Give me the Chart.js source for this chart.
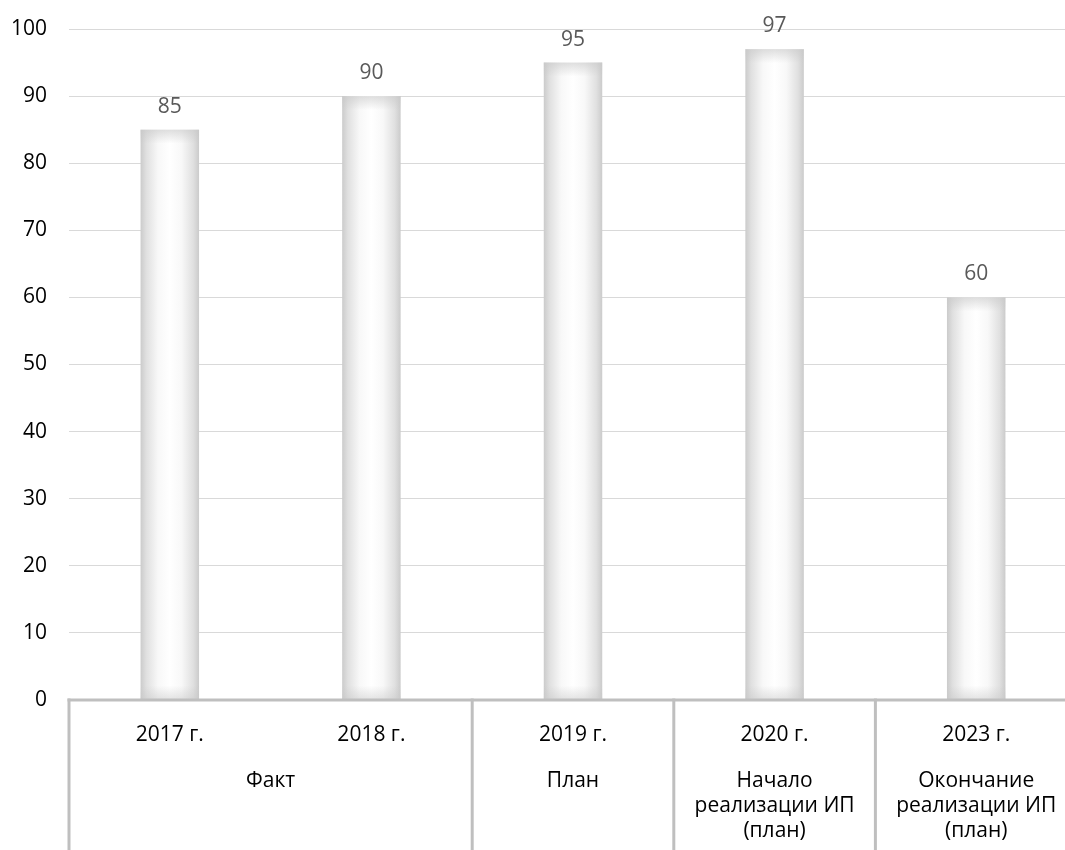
<!DOCTYPE html>
<html>
<head>
<meta charset="utf-8">
<script src="https://cdn.jsdelivr.net/npm/chart.js@4.4.1/dist/chart.umd.min.js"></script>
<style>
  html, body { margin: 0; padding: 0; background: #fff; overflow: hidden; }
  #wrap { width: 1077px; height: 850px; }
</style>
</head>
<body>
<div id="wrap"><canvas id="c"></canvas></div>
<script>
// Values per year
const years = ['2017 г.', '2018 г.', '2019 г.', '2020 г.', '2023 г.'];
const values = [85, 90, 95, 97, 60];
// Outer grouping of the category axis: label lines and how many years each spans
const groupLabels = [['Факт'], ['План'], ['Начало', 'реализации ИП', '(план)'], ['Окончание', 'реализации ИП', '(план)']];
const groupSpans = [2, 1, 1, 1];
const yTicks = [0, 10, 20, 30, 40, 50, 60, 70, 80, 90, 100];

const FONT = "'Open Sans', 'DejaVu Sans', sans-serif";
const FSIZE = 21;
const LINE = '#bfbfbf';
const BAR_PCT = 0.29;

// Horizontal grey-white-grey fill, placed from the category scale
function barFill(ctx) {
  const chart = ctx.chart;
  const xs = chart.scales && chart.scales.x;
  if (!xs || ctx.dataIndex === undefined || !isFinite(xs.getPixelForValue(0))) return '#f0f0f0';
  const cx = xs.getPixelForValue(ctx.dataIndex);
  const w = (xs.getPixelForValue(1) - xs.getPixelForValue(0)) * BAR_PCT;
  const g = chart.ctx.createLinearGradient(cx - w / 2, 0, cx + w / 2, 0);
  g.addColorStop(0, '#cbcbcb');
  g.addColorStop(0.1, '#e0e0e0');
  g.addColorStop(0.3, '#f8f8f8');
  g.addColorStop(0.5, '#ffffff');
  g.addColorStop(0.7, '#f8f8f8');
  g.addColorStop(0.9, '#e0e0e0');
  g.addColorStop(1, '#cbcbcb');
  return g;
}

// Soft shading along the top and bottom of each bar
const barShade = {
  id: 'barShade',
  afterDatasetsDraw(chart) {
    const c = chart.ctx;
    chart.getDatasetMeta(0).data.forEach(bar => {
      const l = bar.x - bar.width / 2, w = bar.width;
      const top = bar.y, bot = bar.base;
      const h = 14;
      c.save();
      let g = c.createLinearGradient(0, top, 0, top + h);
      g.addColorStop(0, 'rgba(200,200,200,0.6)');
      g.addColorStop(1, 'rgba(200,200,200,0)');
      c.fillStyle = g;
      c.fillRect(l, top, w, h);
      g = c.createLinearGradient(0, bot - h, 0, bot);
      g.addColorStop(0, 'rgba(200,200,200,0)');
      g.addColorStop(1, 'rgba(200,200,200,0.5)');
      c.fillStyle = g;
      c.fillRect(l, bot - h, w, h);
      c.restore();
    });
  }
};

// Value labels above bars
const valueLabels = {
  id: 'valueLabels',
  afterDatasetsDraw(chart) {
    const c = chart.ctx;
    c.save();
    c.font = FSIZE + 'px ' + FONT;
    c.fillStyle = '#595959';
    c.textAlign = 'center';
    c.textBaseline = 'middle';
    chart.getDatasetMeta(0).data.forEach((bar, i) => {
      c.fillText(String(values[i]), bar.x, bar.y - 23);
    });
    c.restore();
  }
};

// Two-level category axis with dividers
const groupAxis = {
  id: 'groupAxis',
  afterDraw(chart) {
    const c = chart.ctx;
    const x = chart.scales.x;
    const area = chart.chartArea;
    const y0 = chart.scales.y.getPixelForValue(0);
    const half = (x.getPixelForValue(1) - x.getPixelForValue(0)) / 2;
    const bottom = chart.height;
    c.save();
    c.strokeStyle = LINE;
    c.lineWidth = 3;
    c.beginPath();
    c.moveTo(area.left - 1.5, y0);
    c.lineTo(area.right, y0);
    c.stroke();

    c.font = FSIZE + 'px ' + FONT;
    c.fillStyle = '#000';
    c.textAlign = 'center';
    c.textBaseline = 'middle';
    years.forEach((lab, i) => c.fillText(lab, x.getPixelForValue(i), y0 + 35));

    let idx = 0;
    const edges = [x.getPixelForValue(0) - half];
    groupLabels.forEach((lines, g) => {
      const first = idx, last = idx + groupSpans[g] - 1;
      const cx = (x.getPixelForValue(first) + x.getPixelForValue(last)) / 2;
      lines.forEach((t, k) => c.fillText(t, cx, y0 + 81 + k * 25));
      edges.push(x.getPixelForValue(last) + half);
      idx += groupSpans[g];
    });
    c.beginPath();
    edges.slice(0, edges.length - 1).forEach(ex => {
      c.moveTo(ex, y0 - 1.5);
      c.lineTo(ex, bottom);
    });
    c.stroke();
    c.restore();
  }
};

new Chart(document.getElementById('c'), {
  type: 'bar',
  data: {
    labels: years,
    datasets: [{
      data: values,
      backgroundColor: barFill,
      borderWidth: 0,
      categoryPercentage: 1,
      barPercentage: BAR_PCT
    }]
  },
  options: {
    responsive: true,
    maintainAspectRatio: false,
    animation: false,
    devicePixelRatio: 1,
    layout: { padding: { top: 29, right: 0, left: 0, bottom: 0 } },
    plugins: { legend: { display: false }, tooltip: { enabled: false } },
    scales: {
      x: {
        grid: { display: false },
        border: { display: false },
        ticks: { display: false },
        afterFit(s) { s.height = 150; s.paddingLeft = 0; s.paddingRight = 0; }
      },
      y: {
        min: 0, max: 100,
        afterBuildTicks(s) { s.ticks = yTicks.map(v => ({ value: v })); },
        grid: { color: '#d9d9d9', lineWidth: 1, drawTicks: false },
        border: { display: false },
        ticks: { color: '#000', font: { family: FONT, size: FSIZE }, padding: 22 },
        afterFit(s) { s.width = 69; s.paddingTop = 0; s.paddingBottom = 0; }
      }
    }
  },
  plugins: [barShade, valueLabels, groupAxis]
});
</script>
</body>
</html>
